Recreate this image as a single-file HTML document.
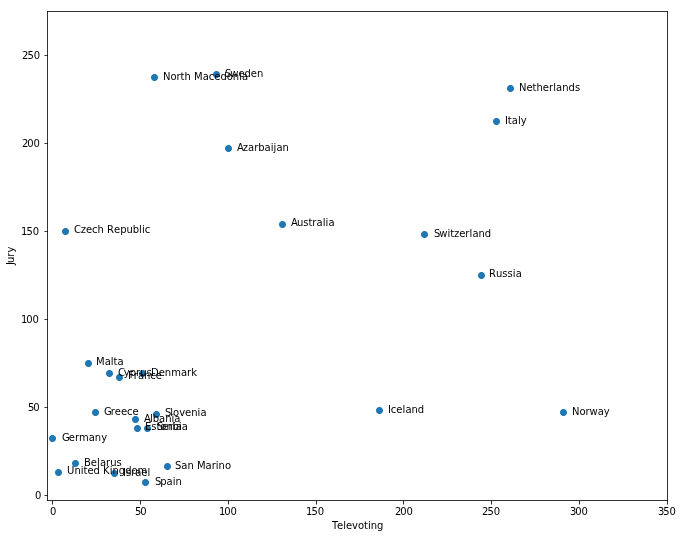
<!DOCTYPE html>
<html lang="en">
<head>
<meta charset="utf-8">
<title>Televoting vs Jury</title>
<style>
html,body{margin:0;padding:0;background:#fff;overflow:hidden}
svg{display:block}
text{font-family:"DejaVu Sans","Liberation Sans",sans-serif;font-size:10px;fill:#000;white-space:pre}
.pt{fill:#1f77b4}
</style>
</head>
<body>
<svg width="683" height="538" viewBox="0 0 683 538" role="img" aria-label="Scatter plot of Televoting versus Jury points">
<rect width="683" height="538" fill="#fff"/>
<g class="pt">
<polygon transform="translate(510.5 88.5)" points="3.5,0 3.47,0.46 3.38,0.91 3.23,1.34 3.03,1.75 2.78,2.13 2.47,2.47 2.13,2.78 1.75,3.03 1.34,3.23 0.91,3.38 0.46,3.47 0,3.5 -0.46,3.47 -0.91,3.38 -1.34,3.23 -1.75,3.03 -2.13,2.78 -2.47,2.47 -2.78,2.13 -3.03,1.75 -3.23,1.34 -3.38,0.91 -3.47,0.46 -3.5,0 -3.47,-0.46 -3.38,-0.91 -3.23,-1.34 -3.03,-1.75 -2.78,-2.13 -2.47,-2.47 -2.13,-2.78 -1.75,-3.03 -1.34,-3.23 -0.91,-3.38 -0.46,-3.47 0,-3.5 0.46,-3.47 0.91,-3.38 1.34,-3.23 1.75,-3.03 2.13,-2.78 2.47,-2.47 2.78,-2.13 3.03,-1.75 3.23,-1.34 3.38,-0.91 3.47,-0.46"/>
<polygon transform="translate(496.5 121.5)" points="3.5,0 3.47,0.46 3.38,0.91 3.23,1.34 3.03,1.75 2.78,2.13 2.47,2.47 2.13,2.78 1.75,3.03 1.34,3.23 0.91,3.38 0.46,3.47 0,3.5 -0.46,3.47 -0.91,3.38 -1.34,3.23 -1.75,3.03 -2.13,2.78 -2.47,2.47 -2.78,2.13 -3.03,1.75 -3.23,1.34 -3.38,0.91 -3.47,0.46 -3.5,0 -3.47,-0.46 -3.38,-0.91 -3.23,-1.34 -3.03,-1.75 -2.78,-2.13 -2.47,-2.47 -2.13,-2.78 -1.75,-3.03 -1.34,-3.23 -0.91,-3.38 -0.46,-3.47 0,-3.5 0.46,-3.47 0.91,-3.38 1.34,-3.23 1.75,-3.03 2.13,-2.78 2.47,-2.47 2.78,-2.13 3.03,-1.75 3.23,-1.34 3.38,-0.91 3.47,-0.46"/>
<polygon transform="translate(481.5 275.5)" points="3.5,0 3.47,0.46 3.38,0.91 3.23,1.34 3.03,1.75 2.78,2.13 2.47,2.47 2.13,2.78 1.75,3.03 1.34,3.23 0.91,3.38 0.46,3.47 0,3.5 -0.46,3.47 -0.91,3.38 -1.34,3.23 -1.75,3.03 -2.13,2.78 -2.47,2.47 -2.78,2.13 -3.03,1.75 -3.23,1.34 -3.38,0.91 -3.47,0.46 -3.5,0 -3.47,-0.46 -3.38,-0.91 -3.23,-1.34 -3.03,-1.75 -2.78,-2.13 -2.47,-2.47 -2.13,-2.78 -1.75,-3.03 -1.34,-3.23 -0.91,-3.38 -0.46,-3.47 0,-3.5 0.46,-3.47 0.91,-3.38 1.34,-3.23 1.75,-3.03 2.13,-2.78 2.47,-2.47 2.78,-2.13 3.03,-1.75 3.23,-1.34 3.38,-0.91 3.47,-0.46"/>
<polygon transform="translate(424.5 234.5)" points="3.5,0 3.47,0.46 3.38,0.91 3.23,1.34 3.03,1.75 2.78,2.13 2.47,2.47 2.13,2.78 1.75,3.03 1.34,3.23 0.91,3.38 0.46,3.47 0,3.5 -0.46,3.47 -0.91,3.38 -1.34,3.23 -1.75,3.03 -2.13,2.78 -2.47,2.47 -2.78,2.13 -3.03,1.75 -3.23,1.34 -3.38,0.91 -3.47,0.46 -3.5,0 -3.47,-0.46 -3.38,-0.91 -3.23,-1.34 -3.03,-1.75 -2.78,-2.13 -2.47,-2.47 -2.13,-2.78 -1.75,-3.03 -1.34,-3.23 -0.91,-3.38 -0.46,-3.47 0,-3.5 0.46,-3.47 0.91,-3.38 1.34,-3.23 1.75,-3.03 2.13,-2.78 2.47,-2.47 2.78,-2.13 3.03,-1.75 3.23,-1.34 3.38,-0.91 3.47,-0.46"/>
<polygon transform="translate(563.5 412.5)" points="3.5,0 3.47,0.46 3.38,0.91 3.23,1.34 3.03,1.75 2.78,2.13 2.47,2.47 2.13,2.78 1.75,3.03 1.34,3.23 0.91,3.38 0.46,3.47 0,3.5 -0.46,3.47 -0.91,3.38 -1.34,3.23 -1.75,3.03 -2.13,2.78 -2.47,2.47 -2.78,2.13 -3.03,1.75 -3.23,1.34 -3.38,0.91 -3.47,0.46 -3.5,0 -3.47,-0.46 -3.38,-0.91 -3.23,-1.34 -3.03,-1.75 -2.78,-2.13 -2.47,-2.47 -2.13,-2.78 -1.75,-3.03 -1.34,-3.23 -0.91,-3.38 -0.46,-3.47 0,-3.5 0.46,-3.47 0.91,-3.38 1.34,-3.23 1.75,-3.03 2.13,-2.78 2.47,-2.47 2.78,-2.13 3.03,-1.75 3.23,-1.34 3.38,-0.91 3.47,-0.46"/>
<polygon transform="translate(216.5 74.5)" points="3.5,0 3.47,0.46 3.38,0.91 3.23,1.34 3.03,1.75 2.78,2.13 2.47,2.47 2.13,2.78 1.75,3.03 1.34,3.23 0.91,3.38 0.46,3.47 0,3.5 -0.46,3.47 -0.91,3.38 -1.34,3.23 -1.75,3.03 -2.13,2.78 -2.47,2.47 -2.78,2.13 -3.03,1.75 -3.23,1.34 -3.38,0.91 -3.47,0.46 -3.5,0 -3.47,-0.46 -3.38,-0.91 -3.23,-1.34 -3.03,-1.75 -2.78,-2.13 -2.47,-2.47 -2.13,-2.78 -1.75,-3.03 -1.34,-3.23 -0.91,-3.38 -0.46,-3.47 0,-3.5 0.46,-3.47 0.91,-3.38 1.34,-3.23 1.75,-3.03 2.13,-2.78 2.47,-2.47 2.78,-2.13 3.03,-1.75 3.23,-1.34 3.38,-0.91 3.47,-0.46"/>
<polygon transform="translate(228.5 148.5)" points="3.5,0 3.47,0.46 3.38,0.91 3.23,1.34 3.03,1.75 2.78,2.13 2.47,2.47 2.13,2.78 1.75,3.03 1.34,3.23 0.91,3.38 0.46,3.47 0,3.5 -0.46,3.47 -0.91,3.38 -1.34,3.23 -1.75,3.03 -2.13,2.78 -2.47,2.47 -2.78,2.13 -3.03,1.75 -3.23,1.34 -3.38,0.91 -3.47,0.46 -3.5,0 -3.47,-0.46 -3.38,-0.91 -3.23,-1.34 -3.03,-1.75 -2.78,-2.13 -2.47,-2.47 -2.13,-2.78 -1.75,-3.03 -1.34,-3.23 -0.91,-3.38 -0.46,-3.47 0,-3.5 0.46,-3.47 0.91,-3.38 1.34,-3.23 1.75,-3.03 2.13,-2.78 2.47,-2.47 2.78,-2.13 3.03,-1.75 3.23,-1.34 3.38,-0.91 3.47,-0.46"/>
<polygon transform="translate(154.5 77.5)" points="3.5,0 3.47,0.46 3.38,0.91 3.23,1.34 3.03,1.75 2.78,2.13 2.47,2.47 2.13,2.78 1.75,3.03 1.34,3.23 0.91,3.38 0.46,3.47 0,3.5 -0.46,3.47 -0.91,3.38 -1.34,3.23 -1.75,3.03 -2.13,2.78 -2.47,2.47 -2.78,2.13 -3.03,1.75 -3.23,1.34 -3.38,0.91 -3.47,0.46 -3.5,0 -3.47,-0.46 -3.38,-0.91 -3.23,-1.34 -3.03,-1.75 -2.78,-2.13 -2.47,-2.47 -2.13,-2.78 -1.75,-3.03 -1.34,-3.23 -0.91,-3.38 -0.46,-3.47 0,-3.5 0.46,-3.47 0.91,-3.38 1.34,-3.23 1.75,-3.03 2.13,-2.78 2.47,-2.47 2.78,-2.13 3.03,-1.75 3.23,-1.34 3.38,-0.91 3.47,-0.46"/>
<polygon transform="translate(282.5 224.5)" points="3.5,0 3.47,0.46 3.38,0.91 3.23,1.34 3.03,1.75 2.78,2.13 2.47,2.47 2.13,2.78 1.75,3.03 1.34,3.23 0.91,3.38 0.46,3.47 0,3.5 -0.46,3.47 -0.91,3.38 -1.34,3.23 -1.75,3.03 -2.13,2.78 -2.47,2.47 -2.78,2.13 -3.03,1.75 -3.23,1.34 -3.38,0.91 -3.47,0.46 -3.5,0 -3.47,-0.46 -3.38,-0.91 -3.23,-1.34 -3.03,-1.75 -2.78,-2.13 -2.47,-2.47 -2.13,-2.78 -1.75,-3.03 -1.34,-3.23 -0.91,-3.38 -0.46,-3.47 0,-3.5 0.46,-3.47 0.91,-3.38 1.34,-3.23 1.75,-3.03 2.13,-2.78 2.47,-2.47 2.78,-2.13 3.03,-1.75 3.23,-1.34 3.38,-0.91 3.47,-0.46"/>
<polygon transform="translate(379.5 410.5)" points="3.5,0 3.47,0.46 3.38,0.91 3.23,1.34 3.03,1.75 2.78,2.13 2.47,2.47 2.13,2.78 1.75,3.03 1.34,3.23 0.91,3.38 0.46,3.47 0,3.5 -0.46,3.47 -0.91,3.38 -1.34,3.23 -1.75,3.03 -2.13,2.78 -2.47,2.47 -2.78,2.13 -3.03,1.75 -3.23,1.34 -3.38,0.91 -3.47,0.46 -3.5,0 -3.47,-0.46 -3.38,-0.91 -3.23,-1.34 -3.03,-1.75 -2.78,-2.13 -2.47,-2.47 -2.13,-2.78 -1.75,-3.03 -1.34,-3.23 -0.91,-3.38 -0.46,-3.47 0,-3.5 0.46,-3.47 0.91,-3.38 1.34,-3.23 1.75,-3.03 2.13,-2.78 2.47,-2.47 2.78,-2.13 3.03,-1.75 3.23,-1.34 3.38,-0.91 3.47,-0.46"/>
<polygon transform="translate(65.5 231.5)" points="3.5,0 3.47,0.46 3.38,0.91 3.23,1.34 3.03,1.75 2.78,2.13 2.47,2.47 2.13,2.78 1.75,3.03 1.34,3.23 0.91,3.38 0.46,3.47 0,3.5 -0.46,3.47 -0.91,3.38 -1.34,3.23 -1.75,3.03 -2.13,2.78 -2.47,2.47 -2.78,2.13 -3.03,1.75 -3.23,1.34 -3.38,0.91 -3.47,0.46 -3.5,0 -3.47,-0.46 -3.38,-0.91 -3.23,-1.34 -3.03,-1.75 -2.78,-2.13 -2.47,-2.47 -2.13,-2.78 -1.75,-3.03 -1.34,-3.23 -0.91,-3.38 -0.46,-3.47 0,-3.5 0.46,-3.47 0.91,-3.38 1.34,-3.23 1.75,-3.03 2.13,-2.78 2.47,-2.47 2.78,-2.13 3.03,-1.75 3.23,-1.34 3.38,-0.91 3.47,-0.46"/>
<polygon transform="translate(142.5 373.5)" points="3.5,0 3.47,0.46 3.38,0.91 3.23,1.34 3.03,1.75 2.78,2.13 2.47,2.47 2.13,2.78 1.75,3.03 1.34,3.23 0.91,3.38 0.46,3.47 0,3.5 -0.46,3.47 -0.91,3.38 -1.34,3.23 -1.75,3.03 -2.13,2.78 -2.47,2.47 -2.78,2.13 -3.03,1.75 -3.23,1.34 -3.38,0.91 -3.47,0.46 -3.5,0 -3.47,-0.46 -3.38,-0.91 -3.23,-1.34 -3.03,-1.75 -2.78,-2.13 -2.47,-2.47 -2.13,-2.78 -1.75,-3.03 -1.34,-3.23 -0.91,-3.38 -0.46,-3.47 0,-3.5 0.46,-3.47 0.91,-3.38 1.34,-3.23 1.75,-3.03 2.13,-2.78 2.47,-2.47 2.78,-2.13 3.03,-1.75 3.23,-1.34 3.38,-0.91 3.47,-0.46"/>
<polygon transform="translate(156.5 414.5)" points="3.5,0 3.47,0.46 3.38,0.91 3.23,1.34 3.03,1.75 2.78,2.13 2.47,2.47 2.13,2.78 1.75,3.03 1.34,3.23 0.91,3.38 0.46,3.47 0,3.5 -0.46,3.47 -0.91,3.38 -1.34,3.23 -1.75,3.03 -2.13,2.78 -2.47,2.47 -2.78,2.13 -3.03,1.75 -3.23,1.34 -3.38,0.91 -3.47,0.46 -3.5,0 -3.47,-0.46 -3.38,-0.91 -3.23,-1.34 -3.03,-1.75 -2.78,-2.13 -2.47,-2.47 -2.13,-2.78 -1.75,-3.03 -1.34,-3.23 -0.91,-3.38 -0.46,-3.47 0,-3.5 0.46,-3.47 0.91,-3.38 1.34,-3.23 1.75,-3.03 2.13,-2.78 2.47,-2.47 2.78,-2.13 3.03,-1.75 3.23,-1.34 3.38,-0.91 3.47,-0.46"/>
<polygon transform="translate(119.5 377.5)" points="3.5,0 3.47,0.46 3.38,0.91 3.23,1.34 3.03,1.75 2.78,2.13 2.47,2.47 2.13,2.78 1.75,3.03 1.34,3.23 0.91,3.38 0.46,3.47 0,3.5 -0.46,3.47 -0.91,3.38 -1.34,3.23 -1.75,3.03 -2.13,2.78 -2.47,2.47 -2.78,2.13 -3.03,1.75 -3.23,1.34 -3.38,0.91 -3.47,0.46 -3.5,0 -3.47,-0.46 -3.38,-0.91 -3.23,-1.34 -3.03,-1.75 -2.78,-2.13 -2.47,-2.47 -2.13,-2.78 -1.75,-3.03 -1.34,-3.23 -0.91,-3.38 -0.46,-3.47 0,-3.5 0.46,-3.47 0.91,-3.38 1.34,-3.23 1.75,-3.03 2.13,-2.78 2.47,-2.47 2.78,-2.13 3.03,-1.75 3.23,-1.34 3.38,-0.91 3.47,-0.46"/>
<polygon transform="translate(109.5 373.5)" points="3.5,0 3.47,0.46 3.38,0.91 3.23,1.34 3.03,1.75 2.78,2.13 2.47,2.47 2.13,2.78 1.75,3.03 1.34,3.23 0.91,3.38 0.46,3.47 0,3.5 -0.46,3.47 -0.91,3.38 -1.34,3.23 -1.75,3.03 -2.13,2.78 -2.47,2.47 -2.78,2.13 -3.03,1.75 -3.23,1.34 -3.38,0.91 -3.47,0.46 -3.5,0 -3.47,-0.46 -3.38,-0.91 -3.23,-1.34 -3.03,-1.75 -2.78,-2.13 -2.47,-2.47 -2.13,-2.78 -1.75,-3.03 -1.34,-3.23 -0.91,-3.38 -0.46,-3.47 0,-3.5 0.46,-3.47 0.91,-3.38 1.34,-3.23 1.75,-3.03 2.13,-2.78 2.47,-2.47 2.78,-2.13 3.03,-1.75 3.23,-1.34 3.38,-0.91 3.47,-0.46"/>
<polygon transform="translate(88.5 363.5)" points="3.5,0 3.47,0.46 3.38,0.91 3.23,1.34 3.03,1.75 2.78,2.13 2.47,2.47 2.13,2.78 1.75,3.03 1.34,3.23 0.91,3.38 0.46,3.47 0,3.5 -0.46,3.47 -0.91,3.38 -1.34,3.23 -1.75,3.03 -2.13,2.78 -2.47,2.47 -2.78,2.13 -3.03,1.75 -3.23,1.34 -3.38,0.91 -3.47,0.46 -3.5,0 -3.47,-0.46 -3.38,-0.91 -3.23,-1.34 -3.03,-1.75 -2.78,-2.13 -2.47,-2.47 -2.13,-2.78 -1.75,-3.03 -1.34,-3.23 -0.91,-3.38 -0.46,-3.47 0,-3.5 0.46,-3.47 0.91,-3.38 1.34,-3.23 1.75,-3.03 2.13,-2.78 2.47,-2.47 2.78,-2.13 3.03,-1.75 3.23,-1.34 3.38,-0.91 3.47,-0.46"/>
<polygon transform="translate(147.5 428.5)" points="3.5,0 3.47,0.46 3.38,0.91 3.23,1.34 3.03,1.75 2.78,2.13 2.47,2.47 2.13,2.78 1.75,3.03 1.34,3.23 0.91,3.38 0.46,3.47 0,3.5 -0.46,3.47 -0.91,3.38 -1.34,3.23 -1.75,3.03 -2.13,2.78 -2.47,2.47 -2.78,2.13 -3.03,1.75 -3.23,1.34 -3.38,0.91 -3.47,0.46 -3.5,0 -3.47,-0.46 -3.38,-0.91 -3.23,-1.34 -3.03,-1.75 -2.78,-2.13 -2.47,-2.47 -2.13,-2.78 -1.75,-3.03 -1.34,-3.23 -0.91,-3.38 -0.46,-3.47 0,-3.5 0.46,-3.47 0.91,-3.38 1.34,-3.23 1.75,-3.03 2.13,-2.78 2.47,-2.47 2.78,-2.13 3.03,-1.75 3.23,-1.34 3.38,-0.91 3.47,-0.46"/>
<polygon transform="translate(135.5 419.5)" points="3.5,0 3.47,0.46 3.38,0.91 3.23,1.34 3.03,1.75 2.78,2.13 2.47,2.47 2.13,2.78 1.75,3.03 1.34,3.23 0.91,3.38 0.46,3.47 0,3.5 -0.46,3.47 -0.91,3.38 -1.34,3.23 -1.75,3.03 -2.13,2.78 -2.47,2.47 -2.78,2.13 -3.03,1.75 -3.23,1.34 -3.38,0.91 -3.47,0.46 -3.5,0 -3.47,-0.46 -3.38,-0.91 -3.23,-1.34 -3.03,-1.75 -2.78,-2.13 -2.47,-2.47 -2.13,-2.78 -1.75,-3.03 -1.34,-3.23 -0.91,-3.38 -0.46,-3.47 0,-3.5 0.46,-3.47 0.91,-3.38 1.34,-3.23 1.75,-3.03 2.13,-2.78 2.47,-2.47 2.78,-2.13 3.03,-1.75 3.23,-1.34 3.38,-0.91 3.47,-0.46"/>
<polygon transform="translate(137.5 428.5)" points="3.5,0 3.47,0.46 3.38,0.91 3.23,1.34 3.03,1.75 2.78,2.13 2.47,2.47 2.13,2.78 1.75,3.03 1.34,3.23 0.91,3.38 0.46,3.47 0,3.5 -0.46,3.47 -0.91,3.38 -1.34,3.23 -1.75,3.03 -2.13,2.78 -2.47,2.47 -2.78,2.13 -3.03,1.75 -3.23,1.34 -3.38,0.91 -3.47,0.46 -3.5,0 -3.47,-0.46 -3.38,-0.91 -3.23,-1.34 -3.03,-1.75 -2.78,-2.13 -2.47,-2.47 -2.13,-2.78 -1.75,-3.03 -1.34,-3.23 -0.91,-3.38 -0.46,-3.47 0,-3.5 0.46,-3.47 0.91,-3.38 1.34,-3.23 1.75,-3.03 2.13,-2.78 2.47,-2.47 2.78,-2.13 3.03,-1.75 3.23,-1.34 3.38,-0.91 3.47,-0.46"/>
<polygon transform="translate(167.5 466.5)" points="3.5,0 3.47,0.46 3.38,0.91 3.23,1.34 3.03,1.75 2.78,2.13 2.47,2.47 2.13,2.78 1.75,3.03 1.34,3.23 0.91,3.38 0.46,3.47 0,3.5 -0.46,3.47 -0.91,3.38 -1.34,3.23 -1.75,3.03 -2.13,2.78 -2.47,2.47 -2.78,2.13 -3.03,1.75 -3.23,1.34 -3.38,0.91 -3.47,0.46 -3.5,0 -3.47,-0.46 -3.38,-0.91 -3.23,-1.34 -3.03,-1.75 -2.78,-2.13 -2.47,-2.47 -2.13,-2.78 -1.75,-3.03 -1.34,-3.23 -0.91,-3.38 -0.46,-3.47 0,-3.5 0.46,-3.47 0.91,-3.38 1.34,-3.23 1.75,-3.03 2.13,-2.78 2.47,-2.47 2.78,-2.13 3.03,-1.75 3.23,-1.34 3.38,-0.91 3.47,-0.46"/>
<polygon transform="translate(95.5 412.5)" points="3.5,0 3.47,0.46 3.38,0.91 3.23,1.34 3.03,1.75 2.78,2.13 2.47,2.47 2.13,2.78 1.75,3.03 1.34,3.23 0.91,3.38 0.46,3.47 0,3.5 -0.46,3.47 -0.91,3.38 -1.34,3.23 -1.75,3.03 -2.13,2.78 -2.47,2.47 -2.78,2.13 -3.03,1.75 -3.23,1.34 -3.38,0.91 -3.47,0.46 -3.5,0 -3.47,-0.46 -3.38,-0.91 -3.23,-1.34 -3.03,-1.75 -2.78,-2.13 -2.47,-2.47 -2.13,-2.78 -1.75,-3.03 -1.34,-3.23 -0.91,-3.38 -0.46,-3.47 0,-3.5 0.46,-3.47 0.91,-3.38 1.34,-3.23 1.75,-3.03 2.13,-2.78 2.47,-2.47 2.78,-2.13 3.03,-1.75 3.23,-1.34 3.38,-0.91 3.47,-0.46"/>
<polygon transform="translate(145.5 482.5)" points="3.5,0 3.47,0.46 3.38,0.91 3.23,1.34 3.03,1.75 2.78,2.13 2.47,2.47 2.13,2.78 1.75,3.03 1.34,3.23 0.91,3.38 0.46,3.47 0,3.5 -0.46,3.47 -0.91,3.38 -1.34,3.23 -1.75,3.03 -2.13,2.78 -2.47,2.47 -2.78,2.13 -3.03,1.75 -3.23,1.34 -3.38,0.91 -3.47,0.46 -3.5,0 -3.47,-0.46 -3.38,-0.91 -3.23,-1.34 -3.03,-1.75 -2.78,-2.13 -2.47,-2.47 -2.13,-2.78 -1.75,-3.03 -1.34,-3.23 -0.91,-3.38 -0.46,-3.47 0,-3.5 0.46,-3.47 0.91,-3.38 1.34,-3.23 1.75,-3.03 2.13,-2.78 2.47,-2.47 2.78,-2.13 3.03,-1.75 3.23,-1.34 3.38,-0.91 3.47,-0.46"/>
<polygon transform="translate(114.5 473.5)" points="3.5,0 3.47,0.46 3.38,0.91 3.23,1.34 3.03,1.75 2.78,2.13 2.47,2.47 2.13,2.78 1.75,3.03 1.34,3.23 0.91,3.38 0.46,3.47 0,3.5 -0.46,3.47 -0.91,3.38 -1.34,3.23 -1.75,3.03 -2.13,2.78 -2.47,2.47 -2.78,2.13 -3.03,1.75 -3.23,1.34 -3.38,0.91 -3.47,0.46 -3.5,0 -3.47,-0.46 -3.38,-0.91 -3.23,-1.34 -3.03,-1.75 -2.78,-2.13 -2.47,-2.47 -2.13,-2.78 -1.75,-3.03 -1.34,-3.23 -0.91,-3.38 -0.46,-3.47 0,-3.5 0.46,-3.47 0.91,-3.38 1.34,-3.23 1.75,-3.03 2.13,-2.78 2.47,-2.47 2.78,-2.13 3.03,-1.75 3.23,-1.34 3.38,-0.91 3.47,-0.46"/>
<polygon transform="translate(52.5 438.5)" points="3.5,0 3.47,0.46 3.38,0.91 3.23,1.34 3.03,1.75 2.78,2.13 2.47,2.47 2.13,2.78 1.75,3.03 1.34,3.23 0.91,3.38 0.46,3.47 0,3.5 -0.46,3.47 -0.91,3.38 -1.34,3.23 -1.75,3.03 -2.13,2.78 -2.47,2.47 -2.78,2.13 -3.03,1.75 -3.23,1.34 -3.38,0.91 -3.47,0.46 -3.5,0 -3.47,-0.46 -3.38,-0.91 -3.23,-1.34 -3.03,-1.75 -2.78,-2.13 -2.47,-2.47 -2.13,-2.78 -1.75,-3.03 -1.34,-3.23 -0.91,-3.38 -0.46,-3.47 0,-3.5 0.46,-3.47 0.91,-3.38 1.34,-3.23 1.75,-3.03 2.13,-2.78 2.47,-2.47 2.78,-2.13 3.03,-1.75 3.23,-1.34 3.38,-0.91 3.47,-0.46"/>
<polygon transform="translate(75.5 463.5)" points="3.5,0 3.47,0.46 3.38,0.91 3.23,1.34 3.03,1.75 2.78,2.13 2.47,2.47 2.13,2.78 1.75,3.03 1.34,3.23 0.91,3.38 0.46,3.47 0,3.5 -0.46,3.47 -0.91,3.38 -1.34,3.23 -1.75,3.03 -2.13,2.78 -2.47,2.47 -2.78,2.13 -3.03,1.75 -3.23,1.34 -3.38,0.91 -3.47,0.46 -3.5,0 -3.47,-0.46 -3.38,-0.91 -3.23,-1.34 -3.03,-1.75 -2.78,-2.13 -2.47,-2.47 -2.13,-2.78 -1.75,-3.03 -1.34,-3.23 -0.91,-3.38 -0.46,-3.47 0,-3.5 0.46,-3.47 0.91,-3.38 1.34,-3.23 1.75,-3.03 2.13,-2.78 2.47,-2.47 2.78,-2.13 3.03,-1.75 3.23,-1.34 3.38,-0.91 3.47,-0.46"/>
<polygon transform="translate(58.5 472.5)" points="3.5,0 3.47,0.46 3.38,0.91 3.23,1.34 3.03,1.75 2.78,2.13 2.47,2.47 2.13,2.78 1.75,3.03 1.34,3.23 0.91,3.38 0.46,3.47 0,3.5 -0.46,3.47 -0.91,3.38 -1.34,3.23 -1.75,3.03 -2.13,2.78 -2.47,2.47 -2.78,2.13 -3.03,1.75 -3.23,1.34 -3.38,0.91 -3.47,0.46 -3.5,0 -3.47,-0.46 -3.38,-0.91 -3.23,-1.34 -3.03,-1.75 -2.78,-2.13 -2.47,-2.47 -2.13,-2.78 -1.75,-3.03 -1.34,-3.23 -0.91,-3.38 -0.46,-3.47 0,-3.5 0.46,-3.47 0.91,-3.38 1.34,-3.23 1.75,-3.03 2.13,-2.78 2.47,-2.47 2.78,-2.13 3.03,-1.75 3.23,-1.34 3.38,-0.91 3.47,-0.46"/>
</g>
<g shape-rendering="crispEdges">
<rect x="47" y="11" width="1" height="1" fill="#131313"/>
<rect x="47" y="12" width="1" height="43" fill="#333333"/>
<rect x="47" y="55" width="1" height="1" fill="#1e1e1e"/>
<rect x="47" y="56" width="1" height="87" fill="#333333"/>
<rect x="47" y="143" width="1" height="1" fill="#1e1e1e"/>
<rect x="47" y="144" width="1" height="87" fill="#333333"/>
<rect x="47" y="231" width="1" height="1" fill="#1e1e1e"/>
<rect x="47" y="232" width="1" height="87" fill="#333333"/>
<rect x="47" y="319" width="1" height="1" fill="#1e1e1e"/>
<rect x="47" y="320" width="1" height="87" fill="#333333"/>
<rect x="47" y="407" width="1" height="1" fill="#1e1e1e"/>
<rect x="47" y="408" width="1" height="87" fill="#333333"/>
<rect x="47" y="495" width="1" height="1" fill="#1e1e1e"/>
<rect x="47" y="496" width="1" height="4" fill="#333333"/>
<rect x="47" y="500" width="1" height="1" fill="#131313"/>
<rect x="52" y="501" width="1" height="3" fill="#333333"/>
<rect x="52" y="504" width="1" height="1" fill="#999999"/>
<rect x="140" y="501" width="1" height="3" fill="#333333"/>
<rect x="140" y="504" width="1" height="1" fill="#999999"/>
<rect x="228" y="501" width="1" height="3" fill="#333333"/>
<rect x="228" y="504" width="1" height="1" fill="#999999"/>
<rect x="316" y="501" width="1" height="3" fill="#333333"/>
<rect x="316" y="504" width="1" height="1" fill="#999999"/>
<rect x="403" y="501" width="1" height="3" fill="#333333"/>
<rect x="403" y="504" width="1" height="1" fill="#999999"/>
<rect x="491" y="501" width="1" height="3" fill="#333333"/>
<rect x="491" y="504" width="1" height="1" fill="#999999"/>
<rect x="579" y="501" width="1" height="3" fill="#333333"/>
<rect x="579" y="504" width="1" height="1" fill="#999999"/>
<rect x="667" y="11" width="1" height="1" fill="#131313"/>
<rect x="667" y="12" width="1" height="488" fill="#333333"/>
<rect x="667" y="500" width="1" height="1" fill="#0b0b0b"/>
<rect x="667" y="501" width="1" height="3" fill="#333333"/>
<rect x="667" y="504" width="1" height="1" fill="#999999"/>
<rect x="48" y="11" width="619" height="1" fill="#333333"/>
<rect x="44" y="55" width="1" height="1" fill="#999999"/>
<rect x="45" y="55" width="2" height="1" fill="#333333"/>
<rect x="44" y="143" width="1" height="1" fill="#999999"/>
<rect x="45" y="143" width="2" height="1" fill="#333333"/>
<rect x="44" y="231" width="1" height="1" fill="#999999"/>
<rect x="45" y="231" width="2" height="1" fill="#333333"/>
<rect x="44" y="319" width="1" height="1" fill="#999999"/>
<rect x="45" y="319" width="2" height="1" fill="#333333"/>
<rect x="44" y="407" width="1" height="1" fill="#999999"/>
<rect x="45" y="407" width="2" height="1" fill="#333333"/>
<rect x="44" y="495" width="1" height="1" fill="#999999"/>
<rect x="45" y="495" width="2" height="1" fill="#333333"/>
<rect x="48" y="500" width="4" height="1" fill="#333333"/>
<rect x="52" y="500" width="1" height="1" fill="#1e1e1e"/>
<rect x="53" y="500" width="87" height="1" fill="#333333"/>
<rect x="140" y="500" width="1" height="1" fill="#1e1e1e"/>
<rect x="141" y="500" width="87" height="1" fill="#333333"/>
<rect x="228" y="500" width="1" height="1" fill="#1e1e1e"/>
<rect x="229" y="500" width="87" height="1" fill="#333333"/>
<rect x="316" y="500" width="1" height="1" fill="#1e1e1e"/>
<rect x="317" y="500" width="86" height="1" fill="#333333"/>
<rect x="403" y="500" width="1" height="1" fill="#1e1e1e"/>
<rect x="404" y="500" width="87" height="1" fill="#333333"/>
<rect x="491" y="500" width="1" height="1" fill="#1e1e1e"/>
<rect x="492" y="500" width="87" height="1" fill="#333333"/>
<rect x="579" y="500" width="1" height="1" fill="#1e1e1e"/>
<rect x="580" y="500" width="87" height="1" fill="#333333"/>
</g>
<g>
<text x="50" y="515">0</text>
<text x="135 140.25" y="515">50</text>
<text x="219 224.25 230.5" y="515">100</text>
<text x="306 311.5 317.75" y="515">150</text>
<text x="395 400.25 406.5" y="515">200</text>
<text x="482 487.5 493.75" y="515">250</text>
<text x="570 575.25 581.5" y="515">300</text>
<text x="658 663.25 669.5" y="515">350</text>
<text x="332 337 343.25 346 352 358 364 368 370.75 377" y="529">Televoting</text>
<text x="35" y="499">0</text>
<text x="28 33.25" y="411">50</text>
<text x="21 26.25 32.5" y="323">100</text>
<text x="21 26.5 32.75" y="235">150</text>
<text x="22 27.25 33.5" y="147">200</text>
<text x="22 27.5 33.75" y="59">250</text>
<text transform="translate(14 265) rotate(-90)" x="0 2 8.25 12.5" y="0">Jury</text>
<text x="519 526.5 532.5 536.5 542.75 549 553.25 556 562.25 568.5 575" y="91">Netherlands</text>
<text x="505 507.75 511.75 518 520.75" y="124">Italy</text>
<text x="489 496 502.25 507.5 512.75 515.75" y="277">Russia</text>
<text x="434 439.25 447.5 450.25 454 459.25 465.25 469.5 472.5 478.5 484.75" y="237">Switzerland</text>
<text x="572 579.5 585.5 589.5 597.75 603.75" y="415">Norway</text>
<text x="225 230.25 238.5 244.5 250.75 257" y="77">Sweden</text>
<text x="237 242.75 248 254.25 258.25 264.5 270.75 273.5 276.5 282.5" y="151">Azarbaijan</text>
<text x="163 170.5 176.5 180.5 184.5 190.75 194 202.75 208.75 214.25 220.5 226.75 232.75 239.25 242" y="80">North Macedonia</text>
<text x="291 297 303.25 308.5 312.25 316.5 322.75 325.5 328.5" y="226">Australia</text>
<text x="388 390.75 396.25 402.5 405.5 411.5 417.75" y="413">Iceland</text>
<text x="74 80.75 86 92 97.5 104 107 114 120.25 126.5 132.75 139 142 144.75" y="233">Czech Republic</text>
<text x="151 158.75 164.75 171.25 181 187 191.25" y="376">Denmark</text>
<text x="165 170.25 173 179.25 185 191.25 197.5 200.5" y="416">Slovenia</text>
<text x="128 133.75 138 144 150.25 155.75" y="379">France</text>
<text x="118 123.75 129.75 136 140.25 146.5" y="376">Cyprus</text>
<text x="96 104.75 110.75 113.5 117.5" y="365">Malta</text>
<text x="157 162.25 168.5 172.5 178.75 181.75" y="430">Serbia</text>
<text x="144 150 152.75 159 165.25 171.5 174.25" y="422">Albania</text>
<text x="145 151.25 156.5 160.25 166.5 172.75 175.75" y="430">Estonia</text>
<text x="175 181.25 187.5 193.75 197 205.5 211.75 215.75 218.5 225" y="469">San Marino</text>
<text x="104 110.75 114.75 121 127 132.5" y="415">Greece</text>
<text x="155 160.25 166.5 172.75 175.5" y="485">Spain</text>
<text x="123 126 131 135.25 141.25 147.5" y="476">Israel</text>
<text x="62 68.75 75 79 88.75 94.75 101.25" y="441">Germany</text>
<text x="84 90.75 97 100 106 110.25 116.5" y="466">Belarus</text>
<text x="67 74.5 80.75 83.5 87.5 93.5 100 103 109.75 112.5 118.75 125.25 131.5 137.5" y="474">United Kingdom</text>
</g>
</svg>
</body>
</html>
